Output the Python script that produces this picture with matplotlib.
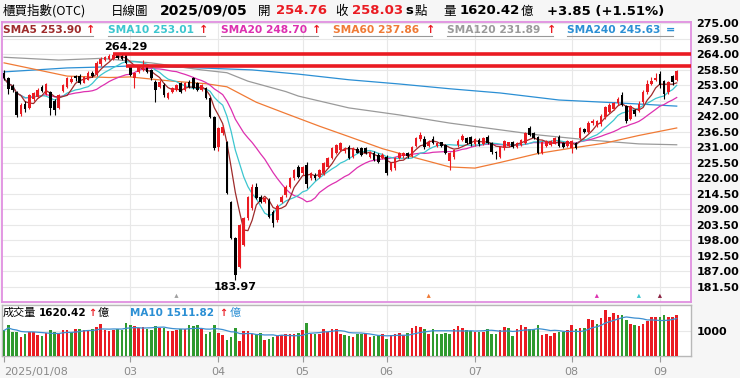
import numpy as np
import pandas as pd
import matplotlib
matplotlib.use("Agg")
import matplotlib.pyplot as plt
from matplotlib.lines import Line2D

W, H = 740, 378
CJK = ["Noto Sans CJK TC", "DejaVu Sans"]
RED = "#ea1b22"
GREEN = "#2f9a2f"

# 櫃買指數 日K 2025/01/08 ~ 2025/09/05 (數值由圖上讀出)
opens = [
    257.3, 255.5, 252.8, 250.5, 242.8, 246.5, 245.0, 248.0, 249.0, 252.5,
    250.0, 250.5, 247.5, 245.0, 251.0, 252.5, 254.3, 256.3, 256.5, 254.0,
    255.0, 257.5, 257.0, 260.5, 262.0, 262.5, 262.5, 264.0, 263.5, 263.8,
    259.8, 255.5, 257.9, 258.5, 259.6, 258.5, 254.3, 252.5, 253.1, 248.4,
    250.8, 251.4, 253.7, 251.4, 254.3, 255.5, 253.7, 251.4, 252.0, 248.4,
    241.9, 231.2, 236.0, 233.0, 211.7, 198.6, 188.5, 196.3, 205.8, 209.3,
    217.0, 213.4, 211.7, 212.3, 208.1, 205.0, 211.7, 214.0, 217.0, 220.0,
    224.1, 221.7, 224.8, 219.9, 221.2, 220.5, 221.7, 224.1, 227.1, 228.9,
    230.0, 229.5, 231.2, 227.6, 230.5, 230.6, 230.6, 227.6, 229.1, 228.2,
    227.1, 227.6, 222.9, 223.5, 227.1, 227.8, 228.9, 228.0, 231.3, 233.8,
    234.0, 231.3, 233.8, 231.5, 232.8, 231.8, 226.0, 227.5, 231.7, 233.6,
    234.2, 234.5, 232.0, 233.6, 232.2, 234.7, 232.5, 229.4, 227.6, 230.6,
    231.5, 232.7, 231.1, 231.8, 232.5, 237.8, 236.0, 234.5, 228.9, 231.4,
    231.9, 232.2, 234.8, 232.6, 231.4, 230.8, 232.6, 234.3, 237.5, 236.5,
    239.5, 238.7, 239.2, 241.7, 243.7, 244.7, 246.7, 249.7, 245.7, 241.2,
    244.2, 244.0, 247.0, 250.5, 253.5, 254.8, 257.0, 254.5, 250.5, 256.5,
    254.76,
]
highs = [
    258.5, 256.0, 253.5, 251.0, 246.8, 247.5, 250.0, 250.8, 252.0, 253.0,
    254.0, 251.0, 248.0, 250.0, 253.5, 256.0, 256.5, 256.8, 257.0, 256.5,
    258.0, 258.2, 261.5, 263.0, 263.5, 264.0, 264.0, 264.2, 264.0, 264.29,
    259.9, 257.8, 260.0, 262.0, 260.0, 259.0, 254.8, 254.8, 254.0, 250.7,
    252.5, 253.6, 254.2, 254.2, 254.8, 256.0, 254.2, 253.5, 252.5, 248.8,
    242.2, 238.3, 238.8, 233.3, 212.0, 199.0, 203.8, 206.2, 213.8, 218.0,
    218.2, 214.2, 213.4, 212.8, 208.6, 210.8, 213.9, 217.5, 220.5, 223.4,
    224.8, 224.5, 225.6, 222.2, 221.8, 223.4, 225.8, 227.6, 231.1, 232.3,
    233.0, 231.0, 231.8, 231.0, 231.0, 231.2, 231.0, 229.8, 229.6, 228.9,
    228.8, 228.2, 225.8, 227.5, 229.4, 229.4, 229.3, 231.6, 234.8, 236.6,
    235.0, 233.5, 235.0, 233.0, 233.0, 232.2, 229.2, 230.5, 234.0, 235.8,
    234.8, 235.0, 234.2, 234.2, 234.8, 235.5, 233.0, 229.8, 231.6, 233.5,
    233.0, 233.2, 233.0, 234.0, 236.5, 238.6, 236.4, 235.0, 233.4, 233.5,
    233.5, 234.6, 235.2, 233.0, 233.5, 233.5, 233.0, 238.2, 238.0, 240.5,
    241.0, 240.7, 242.7, 245.7, 246.7, 247.2, 248.7, 250.7, 246.2, 246.2,
    244.7, 247.5, 251.5, 255.0, 256.0, 257.5, 258.0, 255.0, 254.5, 256.8,
    258.5,
]
lows = [
    254.8, 250.0, 250.5, 241.8, 242.0, 243.5, 244.5, 247.5, 248.5, 250.5,
    249.5, 242.5, 242.5, 244.5, 250.5, 252.0, 254.0, 254.5, 253.5, 253.8,
    254.8, 256.0, 256.5, 260.0, 261.5, 262.0, 262.0, 262.3, 262.0, 260.5,
    256.2, 252.0, 257.5, 258.0, 257.5, 255.0, 247.2, 252.0, 249.0, 248.0,
    250.3, 251.0, 250.4, 251.0, 252.0, 251.6, 251.0, 251.0, 248.0, 241.5,
    230.2, 229.5, 235.5, 214.3, 198.3, 183.97, 188.0, 195.8, 205.3, 208.8,
    212.5, 211.3, 211.3, 205.8, 202.5, 204.5, 211.2, 213.5, 216.5, 219.5,
    220.0, 221.2, 216.5, 219.4, 219.5, 220.0, 221.3, 223.7, 226.7, 228.5,
    229.6, 229.0, 226.8, 227.2, 228.8, 228.0, 228.6, 227.2, 226.0, 225.5,
    226.7, 221.2, 222.4, 223.0, 226.8, 227.3, 227.3, 227.6, 231.0, 233.4,
    230.5, 231.0, 232.2, 231.0, 231.0, 228.5, 223.0, 227.0, 231.2, 233.2,
    232.0, 231.5, 231.5, 231.5, 231.8, 232.0, 228.5, 227.0, 227.2, 230.2,
    231.0, 230.8, 230.8, 231.5, 232.2, 235.0, 233.8, 228.5, 228.5, 231.0,
    231.5, 232.0, 231.0, 230.6, 231.0, 228.9, 230.5, 234.0, 236.0, 236.0,
    239.0, 238.2, 238.7, 241.2, 243.2, 244.2, 246.2, 245.7, 239.7, 240.7,
    242.2, 243.5, 246.5, 250.0, 253.0, 254.5, 252.0, 248.0, 250.0, 253.0,
    254.5,
]
closes = [
    255.5, 251.8, 251.2, 242.5, 246.0, 244.5, 249.5, 250.2, 251.5, 251.0,
    253.5, 245.0, 244.2, 249.5, 253.0, 255.5, 255.2, 255.5, 254.0, 256.0,
    257.5, 256.5, 261.0, 262.5, 263.0, 263.5, 263.9, 262.8, 262.5, 261.0,
    256.7, 257.3, 259.6, 259.8, 257.9, 255.5, 251.4, 254.3, 249.6, 250.2,
    252.0, 253.1, 250.8, 253.7, 252.5, 252.0, 251.4, 253.1, 248.4, 241.9,
    230.6, 237.8, 238.3, 214.6, 198.6, 185.6, 203.4, 205.8, 213.4, 217.0,
    212.9, 211.7, 212.9, 206.3, 204.0, 210.3, 213.4, 217.0, 220.0, 222.9,
    220.5, 224.1, 218.0, 221.7, 219.9, 222.9, 225.3, 227.1, 230.6, 231.8,
    232.4, 230.5, 227.1, 230.6, 229.0, 228.3, 229.0, 229.4, 226.5, 225.9,
    228.3, 221.8, 225.3, 227.1, 228.9, 229.0, 227.8, 231.2, 234.2, 235.4,
    231.0, 233.0, 232.6, 232.5, 231.5, 229.0, 228.8, 230.0, 233.4, 234.9,
    232.5, 232.0, 233.8, 232.0, 234.3, 232.4, 229.2, 229.0, 231.2, 233.1,
    232.7, 231.1, 232.5, 233.6, 236.0, 235.5, 234.3, 229.0, 233.0, 233.1,
    233.1, 234.2, 231.4, 231.0, 233.1, 233.1, 230.8, 237.8, 236.5, 239.8,
    240.5, 240.2, 242.2, 245.2, 246.2, 246.7, 248.2, 246.2, 240.2, 245.7,
    242.7, 246.5, 250.5, 253.5, 254.6, 255.5, 253.2, 250.0, 254.09, 254.18,
    258.03,
]
# 成交量(億)
volumes = [
    1022, 1221, 955, 955, 756, 889, 955, 955, 849, 783,
    916, 1048, 955, 889, 1048, 1048, 955, 1088, 1088, 1022,
    1048, 1088, 1154, 1287, 1022, 995, 1022, 1088, 1048, 1327,
    1221, 1181, 1115, 1154, 1088, 1048, 1181, 1128, 1128, 982,
    982, 1048, 1088, 1088, 1221, 1181, 1221, 1088, 863, 955,
    1221, 916, 823, 650, 756, 1128, 597, 982, 982, 889,
    863, 916, 650, 690, 756, 783, 823, 889, 863, 863,
    916, 1022, 1314, 889, 889, 889, 1088, 955, 1088, 1088,
    889, 823, 783, 756, 863, 863, 889, 756, 783, 823,
    863, 690, 823, 889, 916, 849, 916, 1128, 1181, 1154,
    1088, 889, 1088, 889, 889, 916, 863, 1088, 1194, 1128,
    1048, 995, 955, 955, 955, 1088, 889, 889, 1022, 1154,
    1115, 796, 1088, 1221, 1154, 1088, 1088, 1221, 823, 889,
    796, 916, 955, 955, 1022, 1221, 1062, 1128, 1128, 1486,
    1460, 1287, 1526, 1845, 1553, 1712, 1659, 1645, 1446, 1261,
    1247, 1181, 1287, 1420, 1579, 1579, 1553, 1645, 1553, 1579,
    1620.42,
]

# 長天期均線 (由圖上取點)
sma60_idx = [0, 8, 15, 25, 30, 40, 48, 53, 60, 67, 75, 82, 90, 98, 106, 112, 118, 127, 135, 143, 151, 160]
sma60_val = [261.0, 258.5, 256.3, 255.8, 256.0, 254.5, 253.6, 252.5, 247.0, 243.0, 238.5, 234.8,
             230.5, 227.2, 224.0, 223.6, 225.6, 228.8, 230.7, 232.5, 235.2, 237.86]
sma120_idx = [0, 13, 23, 35, 47, 53, 58, 67, 70, 82, 94, 106, 118, 127, 139, 151, 160]
sma120_val = [263.0, 262.0, 262.6, 261.0, 258.5, 257.5, 254.5, 250.8, 249.2, 245.0, 242.5,
              239.6, 237.2, 235.4, 233.6, 232.2, 231.89]
sma240_idx = [0, 15, 25, 30, 45, 59, 70, 82, 94, 106, 118, 132, 147, 160]
sma240_val = [257.8, 259.2, 259.6, 259.9, 259.3, 258.5, 257.0, 255.0, 253.5, 251.8, 250.3,
              247.8, 246.7, 245.63]

sma_names = ["SMA5", "SMA10", "SMA20", "SMA60", "SMA120", "SMA240"]
sma_last = [253.90, 253.01, 248.70, 237.86, 231.89, 245.63]
sma_sign = ["↑", "↑", "↑", "↑", "↑", "="]
sma_colors = ["#9e2b2b", "#3cc6cf", "#dd30b0", "#f07a35", "#9a9a9a", "#2b8fd4"]

month_idx = [0, 30, 51, 71, 91, 112, 135, 156]
month_lbl = ["2025/01/08", "03", "04", "05", "06", "07", "08", "09"]

# 壓力線
res_level = [264.29, 259.9]
res_start = [26, 29]

# 均線交叉小箭頭
mark_idx = [41, 101, 141, 151, 156]
mark_col = ["#a0a0a0", "#f07a35", "#dd30b0", "#3cc6cf", "#8b2040"]

vol_ma10_last = 1511.82

o = np.array(opens)
hh = np.array(highs)
ll = np.array(lows)
c = np.array(closes)
v = np.array(volumes)
n = len(c)
x = np.arange(n)

cs = pd.Series(c)
sma5 = cs.rolling(5, min_periods=1).mean()
sma10 = cs.rolling(10, min_periods=1).mean()
sma20 = cs.rolling(20, min_periods=1).mean()
vma10 = pd.Series(v).rolling(10, min_periods=1).mean()

fig = plt.figure(figsize=(W / 100, H / 100), dpi=100)
fig.patch.set_facecolor("#f6f6f6")


def fx(px):
    return px / W


def fy(py):
    return 1 - py / H


def put(px, py, s, color="black", size=9, weight="normal", fam=None, ha="left"):
    fig.text(fx(px), fy(py), s, color=color, fontsize=size, fontweight=weight,
             ha=ha, va="center", family=fam or ["DejaVu Sans"])


ax = fig.add_axes([fx(2), fy(302), (691 - 2) / W, (302 - 22) / H])
av = fig.add_axes([fx(2), fy(356), (691 - 2) / W, (356 - 305) / H])
x_lo, x_hi = -0.5, 163.4

# ---- price panel
ax.set_facecolor("white")
ax.set_xlim(x_lo, x_hi)
ax.set_ylim(176.0, 275.53)
levels = np.arange(181.5, 275.01, 5.5)
ax.set_yticks(levels)
ax.set_yticklabels([f"{p:.2f}" for p in levels], fontweight="bold", fontsize=8)
ax.yaxis.tick_right()
ax.tick_params(axis="y", length=0, pad=4)
ax.set_xticks([])
ax.grid(axis="y", color="#e8e8e8", lw=0.8)
for m in month_idx[1:]:
    ax.axvline(m, color="#e8e8e8", lw=0.8, zorder=0)
ax.set_axisbelow(True)
for s in ax.spines.values():
    s.set_color("#e090e0")
    s.set_linewidth(1.3)

ax.plot(sma240_idx, sma240_val, color=sma_colors[5], lw=0.9, zorder=2)
ax.plot(sma120_idx, sma120_val, color=sma_colors[4], lw=0.9, zorder=2)
ax.plot(sma60_idx, sma60_val, color=sma_colors[3], lw=0.9, zorder=2)
ax.plot(x, sma20, color=sma_colors[2], lw=0.9, zorder=2)
ax.plot(x, sma10, color=sma_colors[1], lw=0.9, zorder=2)
ax.plot(x, sma5, color=sma_colors[0], lw=0.9, zorder=2)

up = c >= o
ccol = np.where(up, RED, "black")
ax.vlines(x, ll, hh, colors=ccol, lw=0.8, zorder=3)
ax.bar(x, np.maximum(np.abs(c - o), 0.2), bottom=np.minimum(o, c), width=0.62,
       color=ccol, linewidth=0, zorder=4)

ax.hlines(res_level, res_start, x_hi, colors=RED, lw=2.6, zorder=6)

ih = int(np.argmax(hh))
il = int(np.argmin(ll))
ax.annotate(f"{hh[ih]:.2f}", (ih, hh[ih]), xytext=(0, 1.5), textcoords="offset points",
            ha="center", va="bottom", fontsize=8, fontweight="bold", zorder=7)
ax.annotate(f"{ll[il]:.2f}", (il, ll[il]), xytext=(0, -1.5), textcoords="offset points",
            ha="center", va="top", fontsize=8, fontweight="bold", zorder=7)

ax.scatter(mark_idx, [0.022] * len(mark_idx), marker="^", s=9, c=mark_col,
           transform=ax.get_xaxis_transform(), zorder=7, linewidths=0)

# ---- volume panel
av.set_facecolor("white")
av.set_xlim(x_lo, x_hi)
av.set_ylim(0, 2040)
prev = np.concatenate([[c[0] + 1], c[:-1]])
vcol = np.where(c >= prev, RED, GREEN)
av.bar(x, v, width=0.62, color=vcol, linewidth=0, zorder=3)
av.plot(x, vma10, color="#3d8fd1", lw=0.9, zorder=4)
av.set_yticks([1000])
av.set_yticklabels(["1000"], fontweight="bold", fontsize=8)
av.yaxis.tick_right()
av.tick_params(axis="y", length=0, pad=4)
av.grid(axis="y", color="#e8e8e8", lw=0.8)
for m in month_idx[1:]:
    av.axvline(m, color="#e8e8e8", lw=0.8, zorder=0)
av.set_axisbelow(True)
av.set_xticks(month_idx)
av.set_xticklabels(month_lbl, fontsize=8, color="#8a8a8a")
av.get_xticklabels()[0].set_ha("left")
av.tick_params(axis="x", length=4, color="#999999", pad=4)
for s in av.spines.values():
    s.set_color("#b8b8b8")
    s.set_linewidth(1.0)

# ---- header
put(3, 11, "櫃買指數(OTC)", size=9, fam=CJK)
put(111, 11, "日線圖", size=9, fam=CJK)
put(160, 11, "2025/09/05", size=10, weight="bold")
put(258, 11, "開", size=9, fam=CJK)
put(276, 11, f"{o[-1]:.2f}", color=RED, size=9.5, weight="bold")
put(335, 11, "收", size=9, fam=CJK)
put(352, 11, f"{c[-1]:.2f}", color=RED, size=9.5, weight="bold")
put(405, 11, "s", size=9.5, weight="bold")
put(415, 11, "點", size=9, fam=CJK)
put(443, 11, "量", size=9, fam=CJK)
put(460, 11, f"{v[-1]:.2f}", size=9.5, weight="bold")
put(521, 11, "億", size=9, fam=CJK)
chg = c[-1] - c[-2]
put(547, 11, f"{chg:+.2f} ({chg / c[-2] * 100:+.2f}%)", size=9.5, weight="bold")

# ---- MA legend row
leg_x = [3, 108, 221, 333, 447, 567]
leg_arrow = [86, 199, 312, 426, 547, 666]
leg_end = [93, 205, 318, 432, 553, 673]
for i in range(6):
    put(leg_x[i], 30, f"{sma_names[i]} {sma_last[i]:.2f}", color=sma_colors[i], size=7.7, weight="bold")
    put(leg_arrow[i], 30, sma_sign[i], color=RED if sma_sign[i] != "=" else sma_colors[i],
        size=8, weight="bold")
    fig.add_artist(Line2D([fx(leg_x[i]), fx(leg_end[i])], [fy(36), fy(36)], color="#999999", lw=0.8))

# ---- volume legend
put(3, 313, "成交量", size=8, fam=CJK)
put(39, 313, f"{v[-1]:.2f}", size=7.5, weight="bold")
put(88.5, 313, "↑", color=RED, size=7, weight="bold")
put(98, 313, "億", size=8, fam=CJK)
put(130, 313, f"MA10 {vol_ma10_last:.2f}", color="#2b8fd4", size=7.5, weight="bold")
put(219.5, 313, "↑", color=RED, size=7, weight="bold")
put(229.5, 313, "億", color="#2b8fd4", size=8, fam=CJK)

fig.savefig("out.png", dpi=100, facecolor=fig.get_facecolor())
